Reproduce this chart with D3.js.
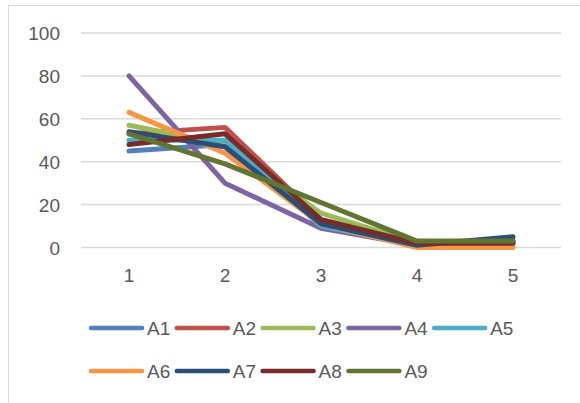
<!DOCTYPE html>
<html><head><meta charset="utf-8">
<script src="https://cdn.jsdelivr.net/npm/d3@7"></script>
<style>
html,body{margin:0;padding:0;background:#fff;}
svg{display:block;}
text{font-family:"Liberation Sans",Arial,sans-serif;fill:#595959;}
</style></head>
<body>
<svg id="chart" width="580" height="403"></svg>
<script>
const categories = ["1","2","3","4","5"];
const seriesNames = ["A1","A2","A3","A4","A5","A6","A7","A8","A9"];
const A1 = [45, 48, 11, 1, 2];
const A2 = [53, 56, 13, 2, 3];
const A3 = [57, 48, 16, 2, 3];
const A4 = [80, 30, 9, 1, 2];
const A5 = [50, 50, 10, 1, 3];
const A6 = [63, 44, 11, 0, 0];
const A7 = [54, 47, 11, 1, 5];
const A8 = [48, 53, 13, 2, 2];
const A9 = [53, 39, 21, 3, 3];
const yTicks = [0, 20, 40, 60, 80, 100];
const colors = ["#4F81BD","#C0504D","#9BBB59","#8064A2","#4BACC6","#F79646","#2C4D75","#772C2A","#5F7530"];

const seriesValues = [A1,A2,A3,A4,A5,A6,A7,A8,A9];
const series = seriesNames.map((n,i)=>({name:n, values:seriesValues[i], color:colors[i]}));

const svg = d3.select("#chart");
// chart area border (cropped: only top and left visible)
svg.append("rect").attr("x",8.5).attr("y",5.5).attr("width",700).attr("height",600)
  .attr("fill","none").attr("stroke","#d9d9d9").attr("stroke-width",1);

const x = d3.scaleBand().domain(categories).range([81,561]);
const y = d3.scaleLinear().domain([0,100]).range([247.5,33]);

// gridlines
svg.append("g").selectAll("line").data(yTicks).join("line")
  .attr("x1",81).attr("x2",561)
  .attr("y1",d=>y(d)).attr("y2",d=>y(d))
  .attr("stroke","#d9d9d9").attr("stroke-width",1.5);

// y axis labels
const yAxis = d3.axisLeft(y).tickValues(yTicks).tickSize(0).tickPadding(0);
const gy = svg.append("g").attr("transform","translate(60,0)").call(yAxis);
gy.select(".domain").remove();
gy.selectAll("text").attr("font-size",19).style("font-family","'Liberation Sans',Arial,sans-serif").attr("fill","#595959").attr("dy","0.35em");

// x axis labels
const xAxis = d3.axisBottom(x).tickSize(0).tickPadding(0);
const gx = svg.append("g").attr("transform","translate(0,268)").call(xAxis);
gx.select(".domain").remove();
gx.selectAll("text").attr("font-size",19).style("font-family","'Liberation Sans',Arial,sans-serif").attr("fill","#595959").attr("dy","0.71em");

// lines
const line = d3.line().x((d,i)=>x(categories[i])+x.bandwidth()/2).y(d=>y(d));
svg.append("g").selectAll("path").data(series).join("path")
  .attr("d",d=>line(d.values))
  .attr("fill","none").attr("stroke",d=>d.color).attr("stroke-width",5)
  .attr("stroke-linecap","round").attr("stroke-linejoin","round");

// legend
const lg = svg.append("g");
const items = lg.selectAll("g").data(series).join("g")
  .attr("transform",(d,i)=>`translate(${90 + (i%5)*85.8},${i<5?328:371})`);
items.append("line").attr("x1",1).attr("x2",52).attr("y1",0).attr("y2",0)
  .attr("stroke",d=>d.color).attr("stroke-width",4.5).attr("stroke-linecap","round");
items.append("text").attr("x",57).attr("y",0).attr("dy","0.35em")
  .attr("font-size",19).text(d=>d.name);
</script>
</body></html>
